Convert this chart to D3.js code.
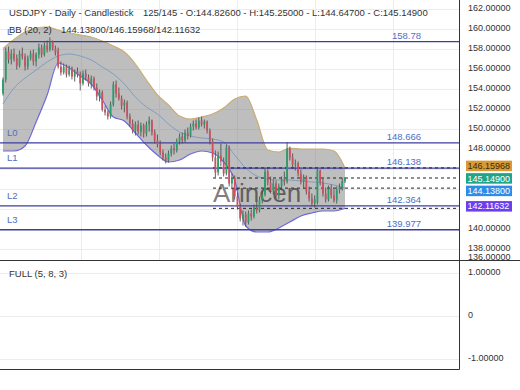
<!DOCTYPE html>
<html>
<head>
<meta charset="utf-8">
<script src="https://cdn.jsdelivr.net/npm/d3@7"></script>
<style>
  body { margin: 0; background: #fff; }
  svg { display: block; font-family: "Liberation Sans", Arial, sans-serif; }
</style>
</head>
<body>
<svg id="chart" width="520" height="390"></svg>
<script>
// candles (daily USDJPY, bars 1..125 of the replay)
const opens = [153.6,155.0,157.8,157.0,157.6,157.1,156.4,157.6,157.3,156.3,157.1,157.6,156.8,157.5,158.2,157.5,158.4,158.0,158.8,158.1,
  157.9,156.3,155.7,156.3,155.5,156.1,155.3,155.8,155.5,154.6,155.6,155.2,154.6,155.1,154.2,153.3,153.7,152.0,151.7,151.3,
  152.5,154.5,153.6,153.1,152.4,152.7,151.3,150.6,149.9,150.5,149.8,150.4,149.6,150.5,150.9,149.7,148.9,148.5,147.7,147.2,
  146.9,147.6,148.1,147.9,148.8,149.3,148.9,149.7,149.4,150.3,150.6,150.2,150.9,150.5,150.8,149.9,148.8,147.2,145.7,147.4,
  146.8,145.6,148.2,144.6,145.2,143.3,142.3,141.1,141.5,140.7,141.6,141.3,142.2,141.9,143.0,143.5,145.8,144.7,143.9,144.6,
  143.4,144.3,145.0,144.8,148.1,147.2,146.5,146.6,145.6,144.8,145.2,143.8,143.1,142.6,142.7,145.9,144.7,143.6,143.0,144.1,
  143.4,142.9,144.0,144.2,144.826];
const highs = [155.2,158.2,158.3,158.0,158.1,157.5,157.9,158.2,157.6,157.4,157.9,158.0,157.7,158.6,158.5,158.7,158.9,159.2,158.9,158.4,
  158.2,156.8,156.6,156.5,156.4,156.3,156.0,156.2,155.8,155.9,156.0,155.5,155.4,155.3,154.6,154.0,153.9,152.4,151.9,152.8,
  154.8,154.9,154.2,153.4,153.0,152.9,151.6,151.0,150.8,150.9,150.7,150.6,150.8,151.3,151.0,150.0,149.5,148.9,148.0,147.6,
  147.9,148.4,148.6,149.1,149.6,149.7,150.0,150.2,150.6,150.9,151.0,151.2,151.3,151.0,150.9,150.1,149.1,147.9,147.8,148.6,
  147.2,148.5,148.4,145.6,145.4,143.7,142.6,141.9,141.8,141.9,142.0,142.5,142.8,143.3,143.9,146.2,146.0,145.3,145.0,144.9,
  144.6,145.3,145.8,148.75,148.3,147.6,147.0,146.8,146.0,145.5,145.4,144.3,143.6,143.4,146.2,146.0,145.1,144.2,144.4,144.5,
  144.0,144.3,144.6,145.2,145.25];
const lows = [153.4,154.7,156.6,156.5,156.8,156.0,156.2,157.0,155.9,156.0,156.9,156.4,156.3,157.1,157.2,157.3,157.7,157.8,157.9,157.4,
  156.1,155.4,155.5,155.2,155.3,155.0,154.8,155.2,153.9,154.4,154.9,154.3,154.1,153.9,152.9,152.8,151.8,151.4,151.0,151.1,
  152.3,153.2,152.9,152.0,151.7,151.0,150.3,149.6,149.4,149.5,149.3,149.2,149.3,149.8,149.4,148.6,148.2,147.4,146.9,146.6,
  146.7,147.3,147.5,147.7,148.5,148.6,148.7,149.0,149.2,149.9,150.0,150.0,150.3,150.1,149.6,148.5,146.8,145.2,145.4,146.3,
  145.3,145.4,144.3,144.2,143.0,142.0,140.8,140.4,140.3,140.5,140.9,141.1,141.6,141.7,142.6,143.3,144.4,143.6,143.5,143.1,
  143.0,143.9,144.4,144.6,146.9,146.2,145.9,145.3,144.5,144.1,143.5,142.8,142.3,142.2,142.5,144.4,143.3,142.7,142.8,143.1,
  142.7,142.6,143.6,143.9,144.647];
const closes = [155.0,157.8,157.0,157.6,157.1,156.4,157.6,157.3,156.3,157.1,157.6,156.8,157.5,158.2,157.5,158.4,158.0,158.8,158.1,157.7,
  156.3,155.7,156.3,155.5,156.1,155.3,155.8,155.5,154.6,155.6,155.2,154.6,155.1,154.2,153.3,153.7,152.0,151.7,151.3,152.5,
  154.5,153.6,153.1,152.4,152.7,151.3,150.6,149.9,150.5,149.8,150.4,149.6,150.5,150.9,149.7,148.9,148.5,147.7,147.2,146.9,
  147.6,148.1,147.9,148.8,149.3,148.9,149.7,149.4,150.3,150.6,150.2,150.9,150.5,150.8,149.9,148.8,147.2,145.7,147.4,146.8,
  145.6,148.2,144.6,145.2,143.3,142.3,141.1,141.5,140.7,141.6,141.3,142.2,141.9,143.0,143.5,145.8,144.7,143.9,144.6,143.4,
  144.3,145.0,144.8,148.1,147.2,146.5,146.6,145.6,144.8,145.2,143.8,143.1,142.6,143.0,145.9,144.7,143.6,143.0,144.1,143.4,
  142.9,144.0,144.2,144.83,145.149];

// Bollinger (20, 2), read every 4th bar
const bbStep = 4;
const bbUpper = [158.1,159.0,159.75,160.15,160.25,159.95,159.65,159.45,159.25,158.85,158.35,157.75,156.55,154.95,153.45,152.45,
  151.35,151.05,151.25,151.55,152.15,153.05,153.35,150.95,147.95,147.75,148.15,148.05,148.05,148.05,147.85,146.16];
const bbMiddle = [152.55,154.15,155.15,155.95,156.75,157.35,157.55,157.35,156.95,156.25,155.55,154.55,153.25,152.25,151.55,150.55,
  149.75,149.35,149.15,149.05,148.75,147.45,146.15,145.35,145.05,144.95,144.95,144.85,144.75,144.65,144.45,144.14];
const bbLower = [147.85,147.85,148.35,150.75,153.45,156.65,156.15,155.35,154.55,152.95,151.25,150.85,149.65,148.45,147.45,146.75,
  146.95,147.55,147.85,147.65,146.75,144.95,140.35,139.75,139.75,140.15,140.75,141.35,141.65,141.85,141.85,142.12];

// levels and current values
const levelValues = [158.78, 148.666, 146.138, 142.364, 139.977];
const levelNames = ["L", "L0", "L1", "L2", "L3"];
const levelTexts = ["158.78", "148.666", "146.138", "142.364", "139.977"];
const tagValues = [146.15968, 145.149, 144.138, 142.11632];
const tagTexts = ["146.15968", "145.14900", "144.13800", "142.11632"];
const tagColors = ["#d99a35", "#1fa587", "#2f8ce6", "#6b3ff0"];
const tagTextColors = ["#3a2a10", "#ffffff", "#ffffff", "#ffffff"];

const priceTicks = [162, 160, 158, 156, 154, 152, 150, 148, 146, 144, 142, 140, 138, 136];
const oscTicks = [1, 0, -1];
const oscTickTexts = ["1.00000", "0", "-1.00000"];
const gridBars = [28.3, 56.6, 84.9, 113.2, 141.5];

const svg = d3.select("#chart");
const plotRight = 459;
const mainBottom = 260;

const x = d3.scaleLinear().domain([0, 124]).range([3, 345]);
const y = d3.scaleLinear().domain([136.95, 162.95]).range([mainBottom, 0]);
const yOsc = d3.scaleLinear().domain([-1, 1]).range([359, 273]);

svg.append("defs").append("clipPath").attr("id", "mainClip")
  .append("rect").attr("x", 0).attr("y", 0).attr("width", plotRight).attr("height", mainBottom);

// grid
const grid = svg.append("g").attr("stroke", "#ececec").attr("stroke-width", 1);
grid.selectAll(".hg").data(priceTicks.filter(v => y(v) < mainBottom)).enter().append("line")
  .attr("x1", 0).attr("x2", plotRight)
  .attr("y1", d => Math.round(y(d)) + 0.5).attr("y2", d => Math.round(y(d)) + 0.5);
grid.selectAll(".vg").data(gridBars).enter().append("line")
  .attr("x1", d => Math.round(x(d)) + 0.5).attr("x2", d => Math.round(x(d)) + 0.5)
  .attr("y1", 0).attr("y2", mainBottom);
grid.selectAll(".og").data(oscTicks).enter().append("line")
  .attr("x1", 0).attr("x2", plotRight)
  .attr("y1", d => Math.round(yOsc(d)) + 0.5).attr("y2", d => Math.round(yOsc(d)) + 0.5);

const main = svg.append("g").attr("clip-path", "url(#mainClip)");

// bollinger band
const bbIdx = bbUpper.map((d, k) => k * bbStep);
const band = d3.area()
  .x((d, k) => x(bbIdx[k]))
  .y0((d, k) => y(bbLower[k]))
  .y1(d => y(d))
  .curve(d3.curveMonotoneX);
main.append("path").datum(bbUpper).attr("d", band).attr("fill", "rgba(120,120,120,0.48)");

const bbLine = arr => d3.line().x((d, k) => x(bbIdx[k])).y(d => y(d)).curve(d3.curveMonotoneX)(arr);
main.append("path").attr("d", bbLine(bbUpper)).attr("fill", "none").attr("stroke", "#c9ad72").attr("stroke-width", 1.2);
main.append("path").attr("d", bbLine(bbMiddle)).attr("fill", "none").attr("stroke", "#7f9ec4").attr("stroke-width", 1);
main.append("path").attr("d", bbLine(bbLower)).attr("fill", "none").attr("stroke", "#6e6ad8").attr("stroke-width", 1.2);

// watermark
main.append("text").attr("x", 213).attr("y", 202)
  .attr("font-size", 26).attr("fill", "rgba(0,0,0,0.5)").text("Arincen");

// level lines
main.selectAll(".lvl").data(levelValues).enter().append("line")
  .attr("x1", 0).attr("x2", plotRight)
  .attr("y1", d => y(d)).attr("y2", d => y(d))
  .attr("stroke", "#3c3ca0").attr("stroke-width", 1.3);

// dashed current-value lines
main.selectAll(".dash").data(tagValues).enter().append("line")
  .attr("x1", 213).attr("x2", plotRight)
  .attr("y1", d => y(d)).attr("y2", d => y(d))
  .attr("stroke", "#222").attr("stroke-width", 1).attr("stroke-dasharray", "3,3");

// candles
const idx = d3.range(closes.length);
main.selectAll(".wick").data(idx).enter().append("line")
  .attr("x1", i => x(i)).attr("x2", i => x(i))
  .attr("y1", i => y(highs[i])).attr("y2", i => y(lows[i]))
  .attr("stroke", "#505050").attr("stroke-width", 0.9);
main.selectAll(".body").data(idx).enter().append("rect")
  .attr("x", i => x(i) - 0.9).attr("width", 1.8)
  .attr("y", i => y(Math.max(opens[i], closes[i])))
  .attr("height", i => Math.max(1, Math.abs(y(opens[i]) - y(closes[i]))))
  .attr("fill", i => closes[i] >= opens[i] ? "#2a9d6c" : "#cf4f5e");

// level labels
svg.selectAll(".lname").data(levelValues).enter().append("text")
  .attr("x", 7).attr("y", d => y(d) - 10.5).attr("dy", "0.35em")
  .attr("font-size", 9.5).attr("fill", "#4d6fc8")
  .text((d, k) => levelNames[k]);
svg.selectAll(".lval").data(levelValues).enter().append("text")
  .attr("x", 421).attr("y", d => y(d) - 6.5).attr("dy", "0.35em")
  .attr("text-anchor", "end").attr("font-size", 9.5).attr("fill", "#4d6fc8")
  .text((d, k) => levelTexts[k]);

// frame
svg.append("line").attr("x1", 0).attr("x2", 520).attr("y1", mainBottom + 0.5).attr("y2", mainBottom + 0.5)
  .attr("stroke", "#333").attr("stroke-width", 1);
svg.append("line").attr("x1", plotRight + 0.5).attr("x2", plotRight + 0.5).attr("y1", 0).attr("y2", 369.5)
  .attr("stroke", "#333").attr("stroke-width", 1);
svg.append("line").attr("x1", 0).attr("x2", plotRight + 0.5).attr("y1", 369.5).attr("y2", 369.5)
  .attr("stroke", "#333").attr("stroke-width", 1);

// value tags, pushed apart so they do not overlap
const tagY = [];
tagValues.forEach((v, k) => {
  let c = y(v) - 2;
  if (k > 0 && c < tagY[k - 1] + 12.5) c = tagY[k - 1] + 12.5;
  tagY.push(c);
});

// price axis labels (the ones hidden behind a value tag are left out)
const tickCenter = d => Math.min(y(d) - 2, 257);
svg.selectAll(".ptick").data(priceTicks.filter(d => tagY.every(t => Math.abs(t - tickCenter(d)) > 9)))
  .enter().append("text")
  .attr("x", 468).attr("y", tickCenter).attr("dy", "0.35em")
  .attr("font-size", 9).attr("fill", "#333")
  .text(d => d3.format(".5f")(d));

const tags = svg.selectAll(".tag").data(tagValues).enter().append("g");
tags.append("rect").attr("x", 466).attr("width", 46).attr("height", 10.5)
  .attr("y", (d, k) => tagY[k] - 5.25).attr("fill", (d, k) => tagColors[k]);
tags.append("text").attr("x", 467.5).attr("y", (d, k) => tagY[k]).attr("dy", "0.35em")
  .attr("font-size", 9).attr("fill", (d, k) => tagTextColors[k])
  .text((d, k) => tagTexts[k]);

// oscillator axis labels
svg.selectAll(".otick").data(oscTicks).enter().append("text")
  .attr("x", 468).attr("y", d => yOsc(d) - 1.5).attr("dy", "0.35em")
  .attr("font-size", 9).attr("fill", "#333")
  .text((d, k) => oscTickTexts[k]);

// headers
svg.append("text").attr("x", 9).attr("y", 13).attr("dy", "0.35em").attr("font-size", 9.5).attr("fill", "#333")
  .text("USDJPY - Daily - Candlestick");
svg.append("text").attr("x", 143).attr("y", 13).attr("dy", "0.35em").attr("font-size", 9.5).attr("fill", "#333")
  .text("125/145 - O:144.82600 - H:145.25000 - L:144.64700 - C:145.14900");
svg.append("text").attr("x", 9).attr("y", 30).attr("dy", "0.35em").attr("font-size", 9.5).attr("fill", "#333")
  .text("BB (20, 2)");
svg.append("text").attr("x", 61).attr("y", 30).attr("dy", "0.35em").attr("font-size", 9.5).attr("fill", "#333")
  .text("144.13800/146.15968/142.11632");
svg.append("text").attr("x", 9).attr("y", 273.5).attr("dy", "0.35em").attr("font-size", 9.5).attr("fill", "#333")
  .text("FULL (5, 8, 3)");
</script>
</body>
</html>
